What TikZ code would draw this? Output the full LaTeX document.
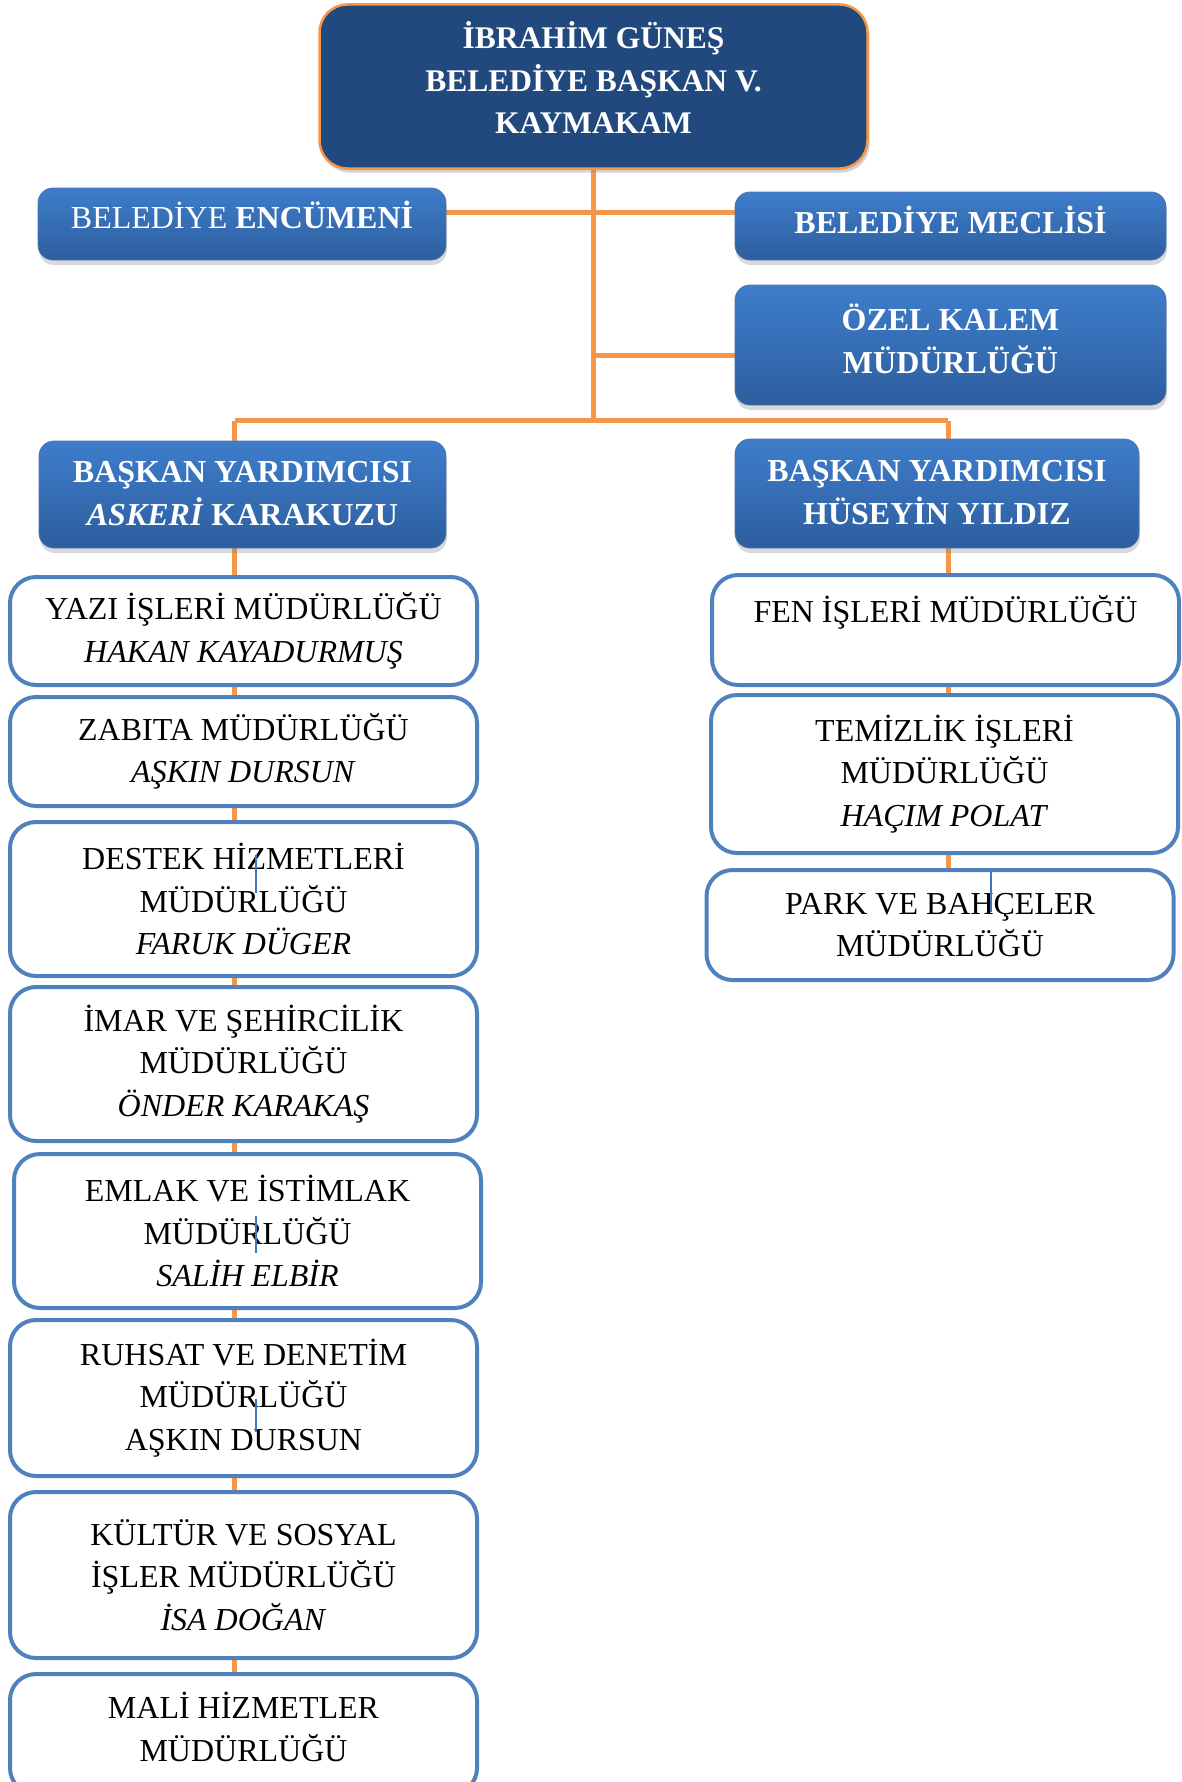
\documentclass[tikz,border=0pt]{standalone}
\usepackage{fontspec}
\setmainfont{Liberation Serif}
\usepackage{xcolor}
\usepackage{tikz}
\definecolor{glgOrange}{RGB}{247,150,70}
\definecolor{glgNavy}{RGB}{33,73,125}
\definecolor{glgBlueTop}{RGB}{62,125,203}
\definecolor{glgBlueBot}{RGB}{45,94,158}
\definecolor{glgFrame}{RGB}{79,129,189}
\definecolor{glgCursor}{RGB}{68,114,196}
\usetikzlibrary{shapes, backgrounds, positioning, shadows}
\tikzstyle{headBox} = [draw=glgOrange, fill=glgNavy, line width=2.5pt, rounded corners=28pt, text=white, align=center, inner sep=4pt, font=\fontsize{31.5}{42.5}\selectfont\bfseries, drop shadow={shadow xshift=2pt, shadow yshift=-4pt, opacity=.35}]
\tikzstyle{blueBox} = [top color=glgBlueTop, bottom color=glgBlueBot, draw=glgBlueBot!85, line width=.8pt, rounded corners=15pt, text=white, align=center, inner sep=4pt, font=\fontsize{32}{42.5}\selectfont\bfseries, drop shadow={shadow xshift=1pt, shadow yshift=-5pt, opacity=.3}]
\tikzstyle{unitBox} = [draw=glgFrame, fill=white, line width=4pt, rounded corners=26pt, align=center, inner sep=4pt, minimum width=467pt, font=\fontsize{32}{42.5}\selectfont]
\tikzstyle{trunkLine} = [draw=glgOrange, line width=5pt]
\tikzstyle{cursorLine} = [draw=glgCursor, line width=1.5pt]

\begin{document}
\begin{tikzpicture}[x=1pt, y=-1pt]
        \useasboundingbox (0,0) rectangle (1182,1782);
        % Nodes
        \node [headBox, minimum width=548pt, minimum height=164pt, text depth=17pt] (mayor) at (593.5,86.5) {İBRAHİM GÜNEŞ\\BELEDİYE BAŞKAN V.\\KAYMAKAM};

        \node [blueBox, minimum width=408pt, minimum height=72pt, text depth=18pt] (encumen) at (242,224) {{\mdseries BELEDİYE} ENCÜMENİ};
        \node [blueBox, minimum width=431pt, minimum height=68pt, text depth=12pt] (meclis) at (950.5,226) {BELEDİYE MECLİSİ};
        \node [blueBox, minimum width=431pt, minimum height=120pt, below of=meclis, node distance=119pt, text depth=13pt] (ozel) {ÖZEL KALEM\\MÜDÜRLÜĞÜ};

        \node [blueBox, minimum width=407pt, minimum height=107pt, text depth=2pt] (byl) at (242.5,494.5) {BAŞKAN YARDIMCISI\\\textit{ASKERİ} KARAKUZU};
        \node [blueBox, minimum width=404pt, minimum height=109pt, text depth=2pt] (byr) at (937,493.5) {BAŞKAN YARDIMCISI\\HÜSEYİN YILDIZ};

        % left column
        \node [unitBox, minimum height=108pt, below of=byl, node distance=136.5pt, xshift=1pt] (yazi) {YAZI İŞLERİ MÜDÜRLÜĞÜ\\\textit{HAKAN KAYADURMUŞ}};
        \node [unitBox, minimum height=109pt, below of=yazi, node distance=120.5pt] (zabita) {ZABITA MÜDÜRLÜĞÜ\\\textit{AŞKIN DURSUN}};
        \node [unitBox, minimum height=154pt, below of=zabita, node distance=147.5pt] (destek) {DESTEK HİZMETLERİ\\MÜDÜRLÜĞÜ\\\textit{FARUK DÜGER}};
        \node [unitBox, minimum height=154pt, below of=destek, node distance=165pt] (imar) {İMAR VE ŞEHİRCİLİK\\MÜDÜRLÜĞÜ\\\textit{ÖNDER KARAKAŞ}};
        \node [unitBox, minimum height=154pt, below of=imar, node distance=167pt, xshift=4pt] (emlak) {EMLAK VE İSTİMLAK\\MÜDÜRLÜĞÜ\\\textit{SALİH ELBİR}};
        \node [unitBox, minimum height=156pt, below of=emlak, node distance=167pt, xshift=-4pt] (ruhsat) {RUHSAT VE DENETİM\\MÜDÜRLÜĞÜ\\AŞKIN DURSUN};
        \node [unitBox, minimum height=166pt, below of=ruhsat, node distance=177pt] (kultur) {KÜLTÜR VE SOSYAL\\İŞLER MÜDÜRLÜĞÜ\\\textit{İSA DOĞAN}};
        \node [unitBox, minimum height=120pt, below of=kultur, node distance=159pt, text depth=14pt] (mali) {MALİ HİZMETLER\\MÜDÜRLÜĞÜ};

        % right column
        \node [unitBox, minimum height=110pt, below of=byr, node distance=136.5pt, xshift=8.5pt] (fen) {FEN İŞLERİ MÜDÜRLÜĞÜ\\[-14pt]\strut};
        \node [unitBox, minimum height=158pt, below of=fen, node distance=144pt, xshift=-1pt] (temizlik) {TEMİZLİK İŞLERİ\\MÜDÜRLÜĞÜ\\\textit{HAÇIM POLAT}};
        \node [unitBox, minimum height=110pt, below of=temizlik, node distance=151pt, xshift=-4.5pt] (park) {PARK VE BAHÇELER\\MÜDÜRLÜĞÜ};

        % Lines
        \begin{scope}[on background layer]
            \coordinate (barL) at ([xshift=-8pt, yshift=20pt]byl.north);
            \coordinate (barR) at ([xshift=11pt, yshift=20pt]byr.north);
            \draw [trunkLine] (mayor.south) -- (mayor.south |- barL);
            \draw [trunkLine] (barL) -- (barL -| barR);
            \draw [trunkLine] (barL) -- (barL |- mali.south);
            \draw [trunkLine] (barL -| barR) -- (barR |- park.north);
            \draw [trunkLine] ([yshift=12pt]encumen.east) -- ([yshift=12pt]encumen.east -| meclis.west);
            \draw [trunkLine] ([yshift=-10pt]ozel.west) -- ([yshift=-10pt]ozel.west -| mayor.south);
        \end{scope}

        % stray marks
        \draw [cursorLine] ([xshift=12.5pt, yshift=44pt]destek.center) -- ++(0,38);
        \draw [cursorLine] ([xshift=8.5pt, yshift=15pt]emlak.center) -- ++(0,37);
        \draw [cursorLine] ([xshift=12.5pt, yshift=-1pt]ruhsat.center) -- ++(0,33);
        \draw [cursorLine] ([xshift=51pt, yshift=53pt]park.center) -- ++(0,40);
\end{tikzpicture}
\end{document}
